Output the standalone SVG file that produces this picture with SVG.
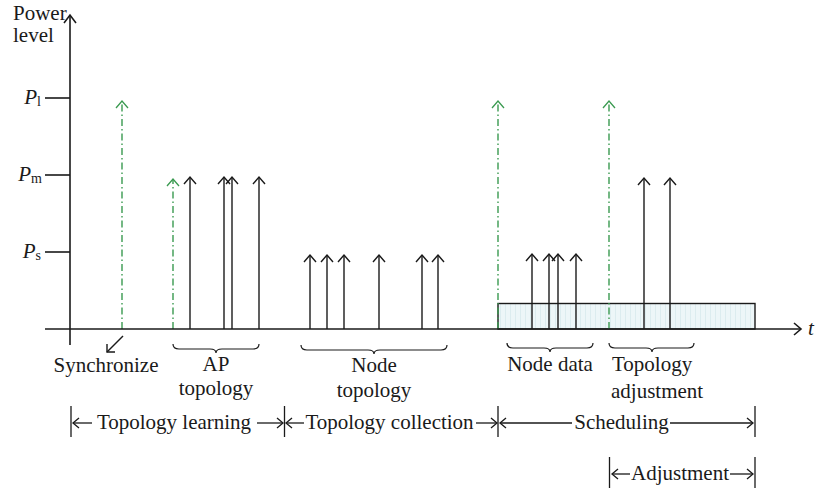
<svg xmlns="http://www.w3.org/2000/svg" xmlns:xlink="http://www.w3.org/1999/xlink" width="816" height="490" viewBox="0 0 816 490">
<style>
text{font-family:"Liberation Serif","Times New Roman",serif;font-size:21px;fill:#1a1a1a}
.ax{stroke:#1a1a1a;stroke-width:1.6;fill:none}
.pl{stroke:#1a1a1a;stroke-width:1.4;fill:none}
.gr{stroke:#3a9a50;stroke-width:1.4;fill:none;stroke-dasharray:7 3 1.5 3}
.gh{stroke:#3a9a50;stroke-width:1.3;fill:none}
.br{stroke:#1a1a1a;stroke-width:1.2;fill:none}
.tl{stroke:#1a1a1a;stroke-width:1.3;fill:none}
</style>
<defs>
<path id="ah" d="M-6,7 L0,0 L6,7" class="pl"/>
<path id="ahg" d="M-6,7 L0,0 L6,7" class="gh"/>
<path id="al" d="M6,-5 L0,0 L6,5" class="tl"/>
<path id="ar" d="M-6,-5 L0,0 L-6,5" class="tl"/>
<pattern id="stripes" width="5" height="10" patternUnits="userSpaceOnUse">
<rect width="5" height="10" fill="#edf6f8"/>
<line x1="0.5" y1="0" x2="0.5" y2="10" stroke="#dcecef" stroke-width="1"/>
</pattern>
</defs>

<g id="schedule-box">
<rect x="498" y="303.5" width="257" height="25.5" fill="url(#stripes)" stroke="#1a1a1a" stroke-width="1.4"/>
</g>

<g id="connectors">
<!-- green sync pulses -->
<line x1="122" y1="329" x2="122" y2="101" class="gr"/><use href="#ahg" x="122" y="101"/>
<line x1="173" y1="329" x2="173" y2="179" class="gr"/><use href="#ahg" x="173" y="179"/>
<line x1="498" y1="329" x2="498" y2="101" class="gr"/><use href="#ahg" x="498" y="101"/>
<line x1="609" y1="329" x2="609" y2="101" class="gr"/><use href="#ahg" x="609" y="101"/>
<!-- AP topology pulses -->
<line x1="190" y1="329" x2="190" y2="177" class="pl"/><use href="#ah" x="190" y="177"/>
<line x1="224" y1="329" x2="224" y2="177" class="pl"/><use href="#ah" x="224" y="177"/>
<line x1="232" y1="329" x2="232" y2="177" class="pl"/><use href="#ah" x="232" y="177"/>
<line x1="259" y1="329" x2="259" y2="177" class="pl"/><use href="#ah" x="259" y="177"/>
<!-- Node topology pulses -->
<line x1="310" y1="329" x2="310" y2="255" class="pl"/><use href="#ah" x="310" y="255"/>
<line x1="327" y1="329" x2="327" y2="255" class="pl"/><use href="#ah" x="327" y="255"/>
<line x1="344" y1="329" x2="344" y2="255" class="pl"/><use href="#ah" x="344" y="255"/>
<line x1="379" y1="329" x2="379" y2="255" class="pl"/><use href="#ah" x="379" y="255"/>
<line x1="422" y1="329" x2="422" y2="255" class="pl"/><use href="#ah" x="422" y="255"/>
<line x1="438" y1="329" x2="438" y2="255" class="pl"/><use href="#ah" x="438" y="255"/>
<!-- Node data pulses -->
<line x1="532" y1="329" x2="532" y2="254" class="pl"/><use href="#ah" x="532" y="254"/>
<line x1="549" y1="329" x2="549" y2="254" class="pl"/><use href="#ah" x="549" y="254"/>
<line x1="558" y1="329" x2="558" y2="254" class="pl"/><use href="#ah" x="558" y="254"/>
<line x1="576" y1="329" x2="576" y2="254" class="pl"/><use href="#ah" x="576" y="254"/>
<!-- Topology adjustment pulses -->
<line x1="644" y1="329" x2="644" y2="178" class="pl"/><use href="#ah" x="644" y="178"/>
<line x1="670" y1="329" x2="670" y2="178" class="pl"/><use href="#ah" x="670" y="178"/>
<!-- synchronize pointer -->
<line x1="123" y1="336" x2="107" y2="352" class="pl"/>
<path d="M115,352 L107,352 L107,344" class="pl"/>
</g>

<g id="axes">
<line x1="70" y1="345" x2="70" y2="15" class="ax"/>
<path d="M64,23 L70,15 L76,23" class="ax"/>
<line x1="45" y1="329" x2="801" y2="329" class="ax"/>
<path d="M794,323 L801,329 L794,335" class="ax"/>
<line x1="45" y1="98" x2="70" y2="98" class="ax"/>
<line x1="45" y1="175" x2="70" y2="175" class="ax"/>
<line x1="45" y1="252" x2="70" y2="252" class="ax"/>
<text x="13" y="20">Power</text>
<text x="13" y="42">level</text>
<text x="41" y="104" text-anchor="end"><tspan font-style="italic">P</tspan><tspan font-size="14" dy="2">l</tspan></text>
<text x="42" y="181" text-anchor="end"><tspan font-style="italic">P</tspan><tspan font-size="14" dy="2">m</tspan></text>
<text x="41" y="258" text-anchor="end"><tspan font-style="italic">P</tspan><tspan font-size="14" dy="2">s</tspan></text>
<text x="808" y="335" font-style="italic">t</text>
</g>

<g id="synchronize">
<text x="106" y="372" text-anchor="middle">Synchronize</text>
</g>

<g id="ap-topology">
<path d="M173,344 Q173,349 179,349 L210,349 Q216,349 216,353 Q216,349 222,349 L253,349 Q259,349 259,344" class="br"/>
<text x="216" y="371" text-anchor="middle">AP</text>
<text x="216" y="395" text-anchor="middle">topology</text>
</g>

<g id="node-topology">
<path d="M301,345 Q301,350 307,350 L368,350 Q374,350 374,354 Q374,350 380,350 L441,350 Q447,350 447,345" class="br"/>
<text x="374" y="372" text-anchor="middle">Node</text>
<text x="374" y="397" text-anchor="middle">topology</text>
</g>

<g id="node-data">
<path d="M507,343 Q507,348 513,348 L544,348 Q550,348 550,352 Q550,348 556,348 L587,348 Q593,348 593,343" class="br"/>
<text x="550" y="371" text-anchor="middle">Node data</text>
</g>

<g id="topology-adjustment">
<path d="M609,343 Q609,348 615,348 L646,348 Q652,348 652,352 Q652,348 658,348 L688,348 Q694,348 694,343" class="br"/>
<text x="612" y="371">Topology</text>
<text x="611" y="398">adjustment</text>
</g>

<g id="phase-timeline">
<line x1="71" y1="406" x2="71" y2="437" class="tl"/>
<line x1="284.5" y1="406" x2="284.5" y2="437" class="tl"/>
<line x1="498" y1="406" x2="498" y2="437" class="tl"/>
<line x1="755" y1="406" x2="755" y2="437" class="tl"/>
<line x1="73" y1="423" x2="92" y2="423" class="tl"/><use href="#al" x="73" y="423"/>
<text x="174" y="429" text-anchor="middle">Topology learning</text>
<line x1="257" y1="423" x2="283" y2="423" class="tl"/><use href="#ar" x="283" y="423"/>
<line x1="286" y1="423" x2="304" y2="423" class="tl"/><use href="#al" x="286" y="423"/>
<text x="389.5" y="429" text-anchor="middle">Topology collection</text>
<line x1="476" y1="423" x2="497" y2="423" class="tl"/><use href="#ar" x="497" y="423"/>
<line x1="500" y1="423" x2="572" y2="423" class="tl"/><use href="#al" x="500" y="423"/>
<text x="621.5" y="429" text-anchor="middle">Scheduling</text>
<line x1="670" y1="423" x2="753" y2="423" class="tl"/><use href="#ar" x="753" y="423"/>
</g>

<g id="adjustment-timeline">
<line x1="609.5" y1="457" x2="609.5" y2="488" class="tl"/>
<line x1="755" y1="457" x2="755" y2="488" class="tl"/>
<line x1="612" y1="474" x2="630" y2="474" class="tl"/><use href="#al" x="612" y="474"/>
<text x="680" y="480" text-anchor="middle">Adjustment</text>
<line x1="730" y1="474" x2="753" y2="474" class="tl"/><use href="#ar" x="753" y="474"/>
</g>
</svg>
